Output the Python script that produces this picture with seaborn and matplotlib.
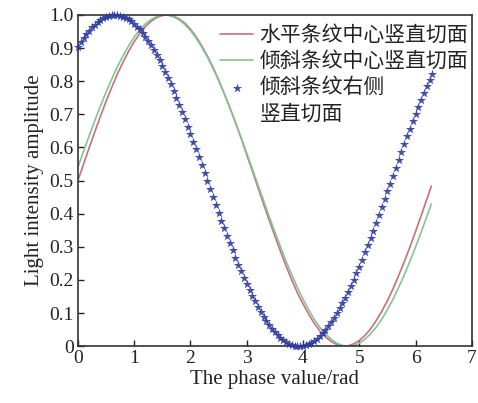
import matplotlib
matplotlib.use("Agg")
import matplotlib.pyplot as plt
from matplotlib.lines import Line2D
import seaborn as sns
import pandas as pd

# ---- data ----
phase_line = [0.0, 0.1, 0.2, 0.3, 0.4, 0.5, 0.6, 0.7, 0.8, 0.9,
              1.0, 1.1, 1.2, 1.3, 1.4, 1.5, 1.6, 1.7, 1.8, 1.9,
              2.0, 2.1, 2.2, 2.3, 2.4, 2.5, 2.6, 2.7, 2.8, 2.9,
              3.0, 3.1, 3.2, 3.3, 3.4, 3.5, 3.6, 3.7, 3.8, 3.9,
              4.0, 4.1, 4.2, 4.3, 4.4, 4.5, 4.6, 4.7, 4.8, 4.9,
              5.0, 5.1, 5.2, 5.3, 5.4, 5.5, 5.6, 5.7, 5.8, 5.9,
              6.0, 6.1, 6.2, 6.28]

horizontal_center = [0.500, 0.550, 0.599, 0.647, 0.694, 0.739, 0.781, 0.821, 0.857, 0.890,
                     0.919, 0.944, 0.965, 0.981, 0.992, 0.998, 1.000, 0.996, 0.988, 0.975,
                     0.957, 0.934, 0.907, 0.876, 0.842, 0.804, 0.763, 0.720, 0.675, 0.628,
                     0.578, 0.529, 0.479, 0.429, 0.380, 0.333, 0.286, 0.242, 0.200, 0.161,
                     0.128, 0.097, 0.069, 0.046, 0.028, 0.014, 0.005, 0.000, 0.001, 0.007,
                     0.017, 0.032, 0.052, 0.077, 0.105, 0.137, 0.173, 0.213, 0.255, 0.299,
                     0.346, 0.394, 0.443, 0.483]

tilted_center = [0.540, 0.588, 0.635, 0.681, 0.725, 0.767, 0.806, 0.843, 0.876, 0.906,
                 0.933, 0.955, 0.973, 0.986, 0.995, 1.000, 0.999, 0.994, 0.985, 0.971,
                 0.953, 0.930, 0.903, 0.873, 0.839, 0.802, 0.762, 0.720, 0.676, 0.630,
                 0.583, 0.535, 0.487, 0.439, 0.391, 0.345, 0.300, 0.256, 0.216, 0.177,
                 0.142, 0.110, 0.081, 0.057, 0.037, 0.021, 0.009, 0.002, 0.000, 0.002,
                 0.009, 0.021, 0.037, 0.057, 0.081, 0.110, 0.142, 0.177, 0.215, 0.256,
                 0.299, 0.344, 0.391, 0.429]

phase_dots = [0.00, 0.05, 0.10, 0.15, 0.20, 0.25, 0.30, 0.35, 0.40, 0.45,
              0.50, 0.55, 0.60, 0.65, 0.70, 0.75, 0.80, 0.85, 0.90, 0.95,
              1.00, 1.05, 1.10, 1.15, 1.20, 1.25, 1.30, 1.35, 1.40, 1.45,
              1.50, 1.55, 1.60, 1.65, 1.70, 1.75, 1.80, 1.85, 1.90, 1.95,
              2.00, 2.05, 2.10, 2.15, 2.20, 2.25, 2.30, 2.35, 2.40, 2.45,
              2.50, 2.55, 2.60, 2.65, 2.70, 2.75, 2.80, 2.85, 2.90, 2.95,
              3.00, 3.05, 3.10, 3.15, 3.20, 3.25, 3.30, 3.35, 3.40, 3.45,
              3.50, 3.55, 3.60, 3.65, 3.70, 3.75, 3.80, 3.85, 3.90, 3.95,
              4.00, 4.05, 4.10, 4.15, 4.20, 4.25, 4.30, 4.35, 4.40, 4.45,
              4.50, 4.55, 4.60, 4.65, 4.70, 4.75, 4.80, 4.85, 4.90, 4.95,
              5.00, 5.05, 5.10, 5.15, 5.20, 5.25, 5.30, 5.35, 5.40, 5.45,
              5.50, 5.55, 5.60, 5.65, 5.70, 5.75, 5.80, 5.85, 5.90, 5.95,
              6.00, 6.05, 6.10, 6.15, 6.20, 6.25, 6.30]

tilted_right = [0.903, 0.917, 0.929, 0.941, 0.952, 0.962, 0.970, 0.978, 0.985, 0.990,
                0.994, 0.997, 0.999, 1.000, 1.000, 0.998, 0.995, 0.992, 0.987, 0.981,
                0.974, 0.965, 0.956, 0.946, 0.934, 0.922, 0.909, 0.894, 0.879, 0.863,
                0.846, 0.828, 0.810, 0.791, 0.771, 0.750, 0.729, 0.708, 0.686, 0.663,
                0.640, 0.617, 0.594, 0.570, 0.546, 0.522, 0.498, 0.474, 0.450, 0.426,
                0.403, 0.379, 0.356, 0.333, 0.311, 0.289, 0.267, 0.246, 0.226, 0.206,
                0.187, 0.169, 0.151, 0.135, 0.119, 0.104, 0.089, 0.076, 0.064, 0.053,
                0.042, 0.033, 0.025, 0.018, 0.012, 0.008, 0.004, 0.002, 0.000, 0.000,
                0.001, 0.003, 0.006, 0.011, 0.016, 0.023, 0.031, 0.040, 0.050, 0.060,
                0.072, 0.085, 0.099, 0.114, 0.130, 0.146, 0.164, 0.182, 0.200, 0.220,
                0.240, 0.261, 0.283, 0.304, 0.327, 0.349, 0.372, 0.396, 0.419, 0.443,
                0.467, 0.491, 0.515, 0.539, 0.563, 0.587, 0.610, 0.633, 0.656, 0.679,
                0.701, 0.723, 0.744, 0.765, 0.785, 0.804, 0.823]

labels = ["水平条纹中心竖直切面", "倾斜条纹中心竖直切面", "倾斜条纹右侧\n竖直切面"]
x_ticks = [0, 1, 2, 3, 4, 5, 6, 7]
y_ticks = [0, 0.1, 0.2, 0.3, 0.4, 0.5, 0.6, 0.7, 0.8, 0.9, 1.0]
y_tick_labels = ["0", "0.1", "0.2", "0.3", "0.4", "0.5", "0.6", "0.7", "0.8", "0.9", "1.0"]

# ---- style ----
sns.set_theme(style="ticks")
plt.rcParams["font.family"] = ["Liberation Serif", "Noto Sans CJK SC"]
plt.rcParams["xtick.direction"] = "in"
plt.rcParams["ytick.direction"] = "in"

fig = plt.figure(figsize=(4.78, 4.03), dpi=100)
ax = fig.add_axes([0.163, 0.141, 0.824, 0.822])

red = "#c8707c"
green = "#84c494"
blue = "#2c3aa0"

df_h = pd.DataFrame({"x": phase_line, "y": horizontal_center})
df_t = pd.DataFrame({"x": phase_line, "y": tilted_center})
df_r = pd.DataFrame({"x": phase_dots, "y": tilted_right})

sns.lineplot(data=df_h, x="x", y="y", ax=ax, color=red, linewidth=1.2,
             sort=False, estimator=None, label=labels[0])
sns.lineplot(data=df_t, x="x", y="y", ax=ax, color=green, linewidth=1.2,
             sort=False, estimator=None, label=labels[1])
sns.scatterplot(data=df_r, x="x", y="y", ax=ax, color=blue, marker="*",
                s=48, linewidth=0, alpha=0.9, label=labels[2], zorder=3, clip_on=False)

ax.set_xlim(0, 7)
ax.set_ylim(0, 1.0)
ax.set_xticks(x_ticks)
ax.set_xticklabels([str(t) for t in x_ticks])
ax.set_yticks(y_ticks)
ax.set_yticklabels(y_tick_labels)
ax.tick_params(axis="both", which="both", labelsize=14, length=4, width=1,
               color="#222222", labelcolor="#222222", pad=3,
               top=False, right=False)
for sp in ax.spines.values():
    sp.set_linewidth(1.2)
    sp.set_color("#333333")

ax.set_xlabel("The phase value/rad", fontsize=15, color="#222222", labelpad=2)
ax.set_ylabel("Light intensity amplitude", fontsize=15, color="#222222", labelpad=4)

# legend: the two-line label keeps its marker on the first line
handles, _ = ax.get_legend_handles_labels()
first, second = labels[2].split("\n")
handles = handles[:3] + [Line2D([], [], color="none")]
leg_labels = [labels[0], labels[1], first, second]
leg = ax.legend(handles, leg_labels, loc="upper right", bbox_to_anchor=(1.012, 0.998),
                frameon=False, prop={"family": ["Noto Sans CJK SC"], "size": 15},
                handlelength=1.6, handletextpad=0.3, labelspacing=0.2,
                borderaxespad=0.0, markerscale=1.0)
for t in leg.get_texts():
    t.set_color("#222222")

fig.savefig("out.png", dpi=100)
